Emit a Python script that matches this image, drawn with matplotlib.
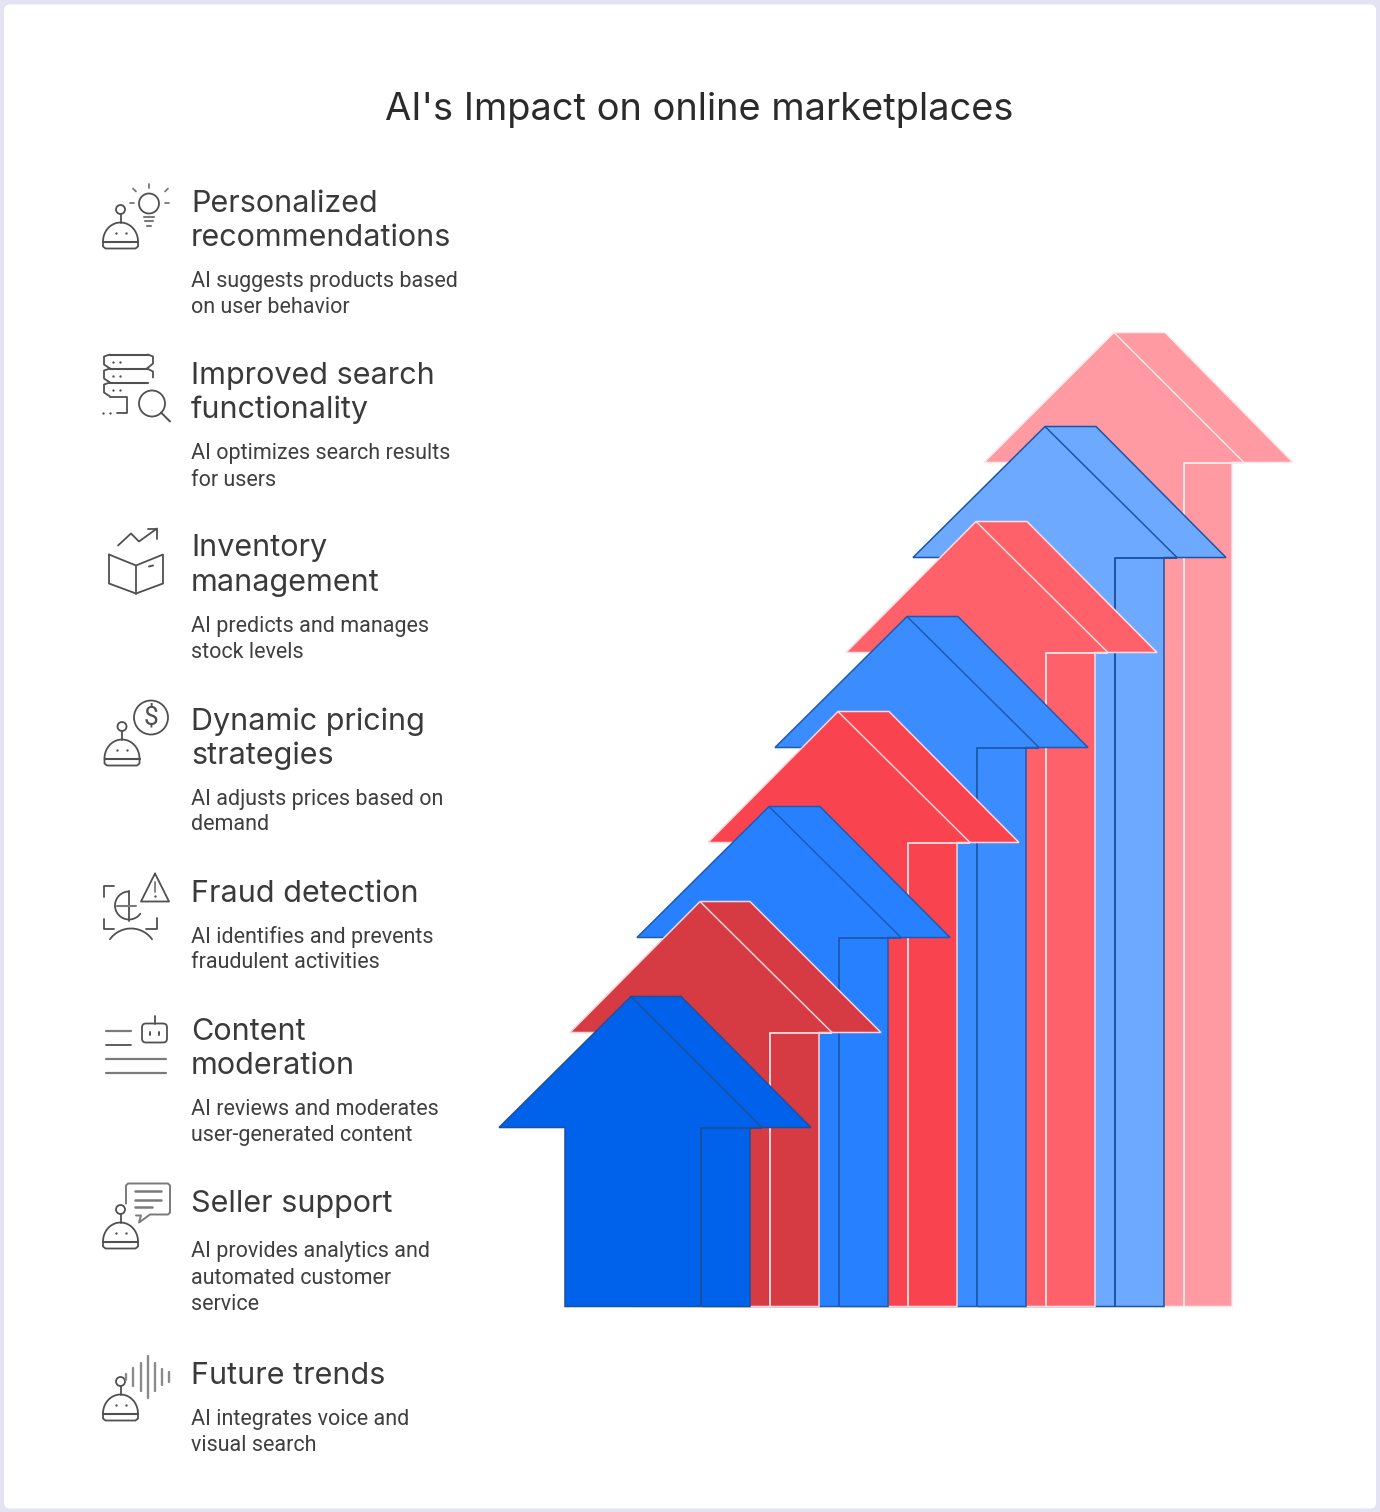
import numpy as np
import matplotlib
matplotlib.use('Agg')
import matplotlib.pyplot as plt
from matplotlib.patches import Polygon, Circle, FancyBboxPatch

# ARROWS (index 0 = front arrow, drawn last)
arrow_left_tip = [499, 570, 637, 708, 775, 846, 913, 984]
arrow_shaft_left = [565, 636, 703, 774, 841, 912, 979, 1050]
arrow_seam = [701, 770, 839, 908, 977, 1046, 1115, 1184]
arrow_shaft_right = [750, 819, 888, 957, 1026, 1095, 1164, 1232]
arrow_right_tip = [811, 881, 950, 1019, 1088, 1157, 1226, 1293]
arrow_seam_end = [762, 832, 901, 970, 1039, 1108, 1177, 1244]
arrow_top_left = [631, 700, 769, 838, 907, 976, 1045, 1114]
arrow_top_right = [681, 750, 820, 889, 958, 1027, 1096, 1165]
arrow_top = [996, 901, 806, 711, 616, 521, 426, 332]
arrow_head_base = [1127, 1032, 937, 842, 747, 652, 557, 462]
arrow_bottom = 1306
arrow_fill = ['#0062ea', '#d63a42', '#2680ff', '#f9434e', '#3b8cff', '#ff616b', '#6daaff', '#ff9aa2']
arrow_edge = ['#1c509f', '#f7d4d8', '#1c5cb4', '#ffd4d8', '#1c5cb4', '#ffdcdf', '#1c55a8', '#ffe6e8']

titles = [['Personalized', 'recommendations'], ['Improved search', 'functionality'],
          ['Inventory', 'management'], ['Dynamic pricing', 'strategies'],
          ['Fraud detection'], ['Content', 'moderation'], ['Seller support'], ['Future trends']]
title_y = [203, 375, 548, 721, 893, 1031, 1204, 1376]
descriptions = [['AI suggests products based', 'on user behavior'],
                ['AI optimizes search results', 'for users'],
                ['AI predicts and manages', 'stock levels'],
                ['AI adjusts prices based on', 'demand'],
                ['AI identifies and prevents', 'fraudulent activities'],
                ['AI reviews and moderates', 'user-generated content'],
                ['AI provides analytics and', 'automated customer', 'service'],
                ['AI integrates voice and', 'visual search']]
description_y = [281, 453.5, 626, 798.5, 936.5, 1109, 1251.5, 1419]

HEAD_FONT = 'Inter'
BODY_FONT = 'Roboto'
ICON = '#505050'
ICON_GREY = '#7a7a7a'

fig = plt.figure(figsize=(13.8, 15.12), dpi=100, facecolor='#e3e3f3')
ax = fig.add_axes([0, 0, 1, 1])
ax.set_xlim(0, 1380)
ax.set_ylim(1511.5, -0.5)
ax.axis('off')

# white card
ax.add_patch(FancyBboxPatch((8, 8), 1364, 1496, boxstyle='round,pad=4,rounding_size=6', fc='white', ec='none'))

ax.text(699, 109.5, "AI's Impact on online marketplaces", ha='center', va='center',
        fontsize=27.4, family=HEAD_FONT, color='#2b2b2b')

# ARROWS
for i in range(7, -1, -1):
    top, base = arrow_top[i], arrow_head_base[i]
    outline = [(arrow_shaft_left[i], arrow_bottom), (arrow_shaft_left[i], base), (arrow_left_tip[i], base),
               (arrow_top_left[i], top), (arrow_top_right[i], top), (arrow_right_tip[i], base),
               (arrow_shaft_right[i], base), (arrow_shaft_right[i], arrow_bottom)]
    ax.add_patch(Polygon(outline, closed=True, fc=arrow_fill[i], ec=arrow_edge[i], lw=1.1, joinstyle='miter', zorder=2 + (7 - i)))
    z = 2.5 + (7 - i)
    ax.plot([arrow_top_left[i], arrow_seam_end[i]], [top, base], color=arrow_edge[i], lw=1.1,
            solid_capstyle='butt', zorder=z)
    ax.plot([arrow_seam[i], arrow_seam[i], arrow_seam_end[i]], [arrow_bottom, base, base], color=arrow_edge[i], lw=1.4,
            solid_capstyle='butt', zorder=z)

# TEXT
for lines, y, desc, y0 in zip(titles, title_y, descriptions, description_y):
    for k, txt in enumerate(lines):
        ax.text(191, y + k * 34.5, txt, ha='left', va='center', fontsize=22, family=HEAD_FONT, color='#3a3a3a')
    for k, txt in enumerate(desc):
        ax.text(191, y0 + k * 26, txt, ha='left', va='center', fontsize=15.5, family=BODY_FONT, color='#3f3f3f')


# ICONS
def line(xs, ys, lw=1.3, c=ICON):
    ax.plot(xs, ys, color=c, lw=lw, solid_capstyle='round', zorder=20)


def dot(x, y):
    ax.plot([x], [y], 'o', color=ICON, ms=1.7, mew=0, zorder=20)


def ring(x, y, r, lw=1.3):
    ax.add_patch(Circle((x, y), r, fc='none', ec=ICON, lw=lw, zorder=20))


def robot(x, y):
    # x, y = middle of the base line
    t = np.linspace(np.pi, 2 * np.pi, 30)
    line(x + 17.5 * np.cos(t), y + 19 * np.sin(t))
    line([x - 17.5, x - 17.5, x - 15, x + 15, x + 17.5, x + 17.5], [y, y + 5, y + 7, y + 7, y + 5, y])
    line([x - 17.5, x + 17.5], [y, y], lw=1.5)
    ring(x, y - 32, 4.5)
    line([x, x], [y - 27.5, y - 19])
    dot(x - 5, y - 9)
    dot(x + 5, y - 9)


# 1 robot + bulb
robot(120.5, 241)
ring(149, 203, 10)
line([144, 154], [216, 216], lw=1.5, c=ICON_GREY)
line([145, 153], [220, 220], lw=1.5, c=ICON_GREY)
line([147, 151], [225, 225], lw=1.5, c=ICON_GREY)
line([149, 149], [183, 187], c=ICON_GREY)
line([133, 136], [188, 191], c=ICON_GREY)
line([165, 168], [191, 188], c=ICON_GREY)
line([130, 134], [202, 202], c=ICON_GREY)
line([165, 169], [202, 202], c=ICON_GREY)

# 2 database + magnifier
for yy in [354, 368, 382]:
    line([110, 148], [yy, yy], lw=1.5)
    line([110, 104, 104, 110], [yy, yy + 2, yy + 10, yy + 14])
line([148, 153, 153, 147], [354, 356, 363, 368])
line([147, 153, 153], [368, 371, 377])
line([110, 127, 127, 117], [396, 396, 412, 412], lw=1.3)
for xx, yy in [(113, 361), (120, 361), (113, 375), (120, 375), (113, 389), (120, 389), (103, 412), (110, 412)]:
    dot(xx, yy)
ring(152, 403, 13)
line([161, 170], [412, 421], lw=1.4)

# 3 box + chart
line([109, 109, 136, 163, 163, 136, 109], [554, 583, 593, 583, 554, 565, 554])
line([136, 136], [565, 593])
line([149, 153], [566, 565], lw=1.4)
line([118, 131, 139, 157], [545, 533, 541, 528])
line([148, 157, 157], [528, 528, 538])

# 4 robot + dollar
robot(122, 758)
ring(151, 717, 17)
ax.text(151, 717, '$', ha='center', va='center', fontsize=19, family=BODY_FONT, color=ICON, zorder=20)

# 5 face scan + warning
line([104, 104, 114], [896, 885, 885])
line([104, 104, 114], [918, 928, 928])
line([146, 157, 157], [928, 928, 917])
t = np.linspace(np.pi * 0.5, np.pi * 1.5, 30)
line(129 + 14 * np.cos(t), 905 + 14 * np.sin(t))
t = np.linspace(np.pi * 0.5, np.pi * 0.2, 12)
line(129 + 14 * np.cos(t), 905 + 14 * np.sin(t))
line([129, 129], [890, 920])
line([117, 136], [905, 905], lw=1.5, c=ICON_GREY)
t = np.linspace(np.pi * 1.2, np.pi * 1.8, 30)
line(131 + 26 * np.cos(t), 954 + 26 * np.sin(t))
line([155, 141, 169, 155], [873, 901, 901, 873], lw=1.3)
line([155, 155], [881, 891], c=ICON_GREY)
dot(155, 895)

# 6 lines + robot head
ax.add_patch(FancyBboxPatch((142, 1023), 25, 19, boxstyle='round,pad=0,rounding_size=4', fc='none', ec=ICON, lw=1.3, zorder=20))
line([154.5, 154.5], [1015, 1023])
line([150, 150], [1031, 1034], lw=1.4)
line([159, 159], [1031, 1034], lw=1.4)
line([106, 131], [1030, 1030], lw=1.6, c=ICON_GREY)
line([106, 131], [1044, 1044], lw=1.3)
line([106, 166], [1058, 1058], lw=1.6, c=ICON_GREY)
line([106, 166], [1072, 1072], lw=1.6, c=ICON_GREY)

# 7 robot + speech bubble
robot(120.5, 1241)
line([126, 126, 128, 168, 170, 170, 168, 150, 139, 141, 136],
     [1203, 1185, 1183, 1183, 1185, 1212, 1214, 1214, 1222, 1215, 1215], lw=1.4, c=ICON_GREY)
line([135, 161], [1190, 1190], lw=1.8, c=ICON_GREY)
line([135, 161], [1199, 1199], lw=1.8, c=ICON_GREY)
line([135, 152], [1206, 1206], lw=1.8, c=ICON_GREY)

# 8 robot + voice bars
robot(120.5, 1413)
bar_x = [126, 133, 141, 148, 155, 162, 169]
bar_half = [3, 9, 14, 21, 14, 8, 5]
for xx, hh in zip(bar_x, bar_half):
    line([xx, xx], [1376 - hh, 1376 + hh], lw=1.7, c='#8a8a8a')

fig.savefig('out.png', dpi=100, facecolor=fig.get_facecolor())
